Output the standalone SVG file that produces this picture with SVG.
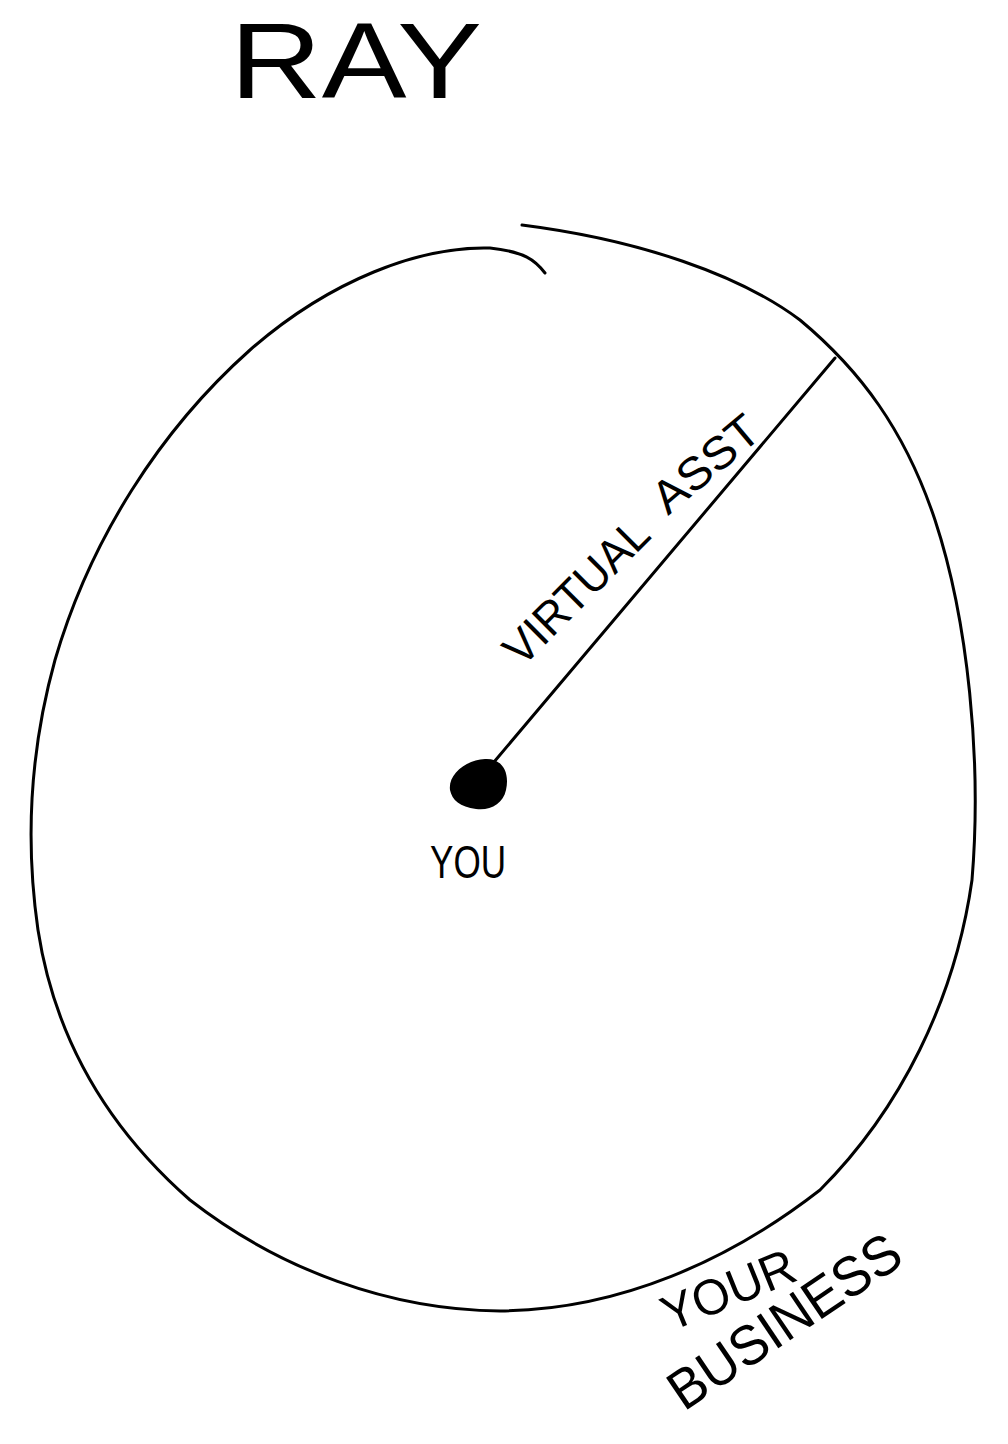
<svg xmlns="http://www.w3.org/2000/svg" width="1008" height="1444" viewBox="0 0 1008 1444">
<style>
.ink{fill:none;stroke:#000;stroke-width:3;stroke-linecap:round;stroke-linejoin:round}
.hand{font-family:"Liberation Sans","DejaVu Sans",sans-serif;fill:#000}
</style>
<rect width="1008" height="1444" fill="#fff"/>
<g id="title">
<text class="hand" x="230" y="98" font-size="108" textLength="252" lengthAdjust="spacingAndGlyphs">RAY</text>
</g>
<g id="business">
<path class="ink" d="M545,273 C535,260 525,252 490,248 C420,246 330,280 250,350 C160,430 90,540 55,660 C30,750 25,840 38,930 C55,1040 110,1130 190,1200 C280,1270 390,1310 500,1311 C620,1310 730,1260 820,1190 C900,1110 955,1000 972,880 C982,760 968,620 935,520 C905,430 860,370 800,320 C740,275 640,240 522,225"/>
<text class="hand" x="670" y="1332" font-size="50" transform="rotate(-22 670 1332)" textLength="140" lengthAdjust="spacingAndGlyphs">YOUR</text>
<text class="hand" x="684" y="1412" font-size="56" transform="rotate(-34 684 1412)" textLength="268" lengthAdjust="spacingAndGlyphs">BUSINESS</text>
</g>
<g id="you">
<path d="M450,790 C448,774 466,760 485,759 C502,758 510,772 506,790 C503,804 490,811 476,809 C460,807 452,800 450,790 Z" fill="#000"/>
<text class="hand" x="430" y="878" font-size="46" textLength="76" lengthAdjust="spacingAndGlyphs">YOU</text>
</g>
<g id="connectors">
<path class="ink" d="M494,762 Q640,590 835,358"/>
<text class="hand" x="522" y="668" font-size="46" transform="rotate(-45 522 668)" textLength="185" lengthAdjust="spacingAndGlyphs">VIRTUAL</text>
<text class="hand" x="668" y="516" font-size="46" transform="rotate(-40 668 516)" textLength="125" lengthAdjust="spacingAndGlyphs">ASST</text>
</g>
</svg>
